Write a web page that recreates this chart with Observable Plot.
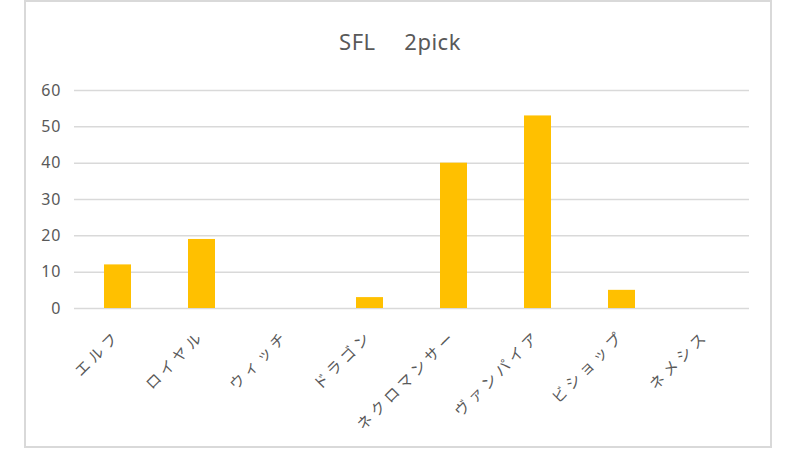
<!DOCTYPE html>
<html>
<head>
<meta charset="utf-8">
<script src="https://cdn.jsdelivr.net/npm/d3@7"></script>
<script src="https://cdn.jsdelivr.net/npm/@observablehq/plot@0.6"></script>
<style>
  html, body { margin: 0; padding: 0; background: #fff; }
  #wrap { position: relative; width: 800px; height: 450px; overflow: hidden; font-family: "Noto Sans", "Noto Sans CJK JP", sans-serif; }
  #frame { position: absolute; left: 24px; top: 0px; width: 748px; height: 448px; box-sizing: border-box; border: 2px solid #d9d9d9; }
  #title { position: absolute; left: 0; width: 800px; top: 26px; text-align: center; font-size: 22px; color: #595959; line-height: 30px; white-space: pre; letter-spacing: 0.5px; }
  #chart { position: absolute; left: 0; top: 0; }
  #chart g[aria-label="x-axis tick label"] text { letter-spacing: 4px; }
  #chart g[aria-label="y-axis tick label"] text { letter-spacing: 1px; }
</style>
</head>
<body>
<div id="wrap">
  <div id="frame"></div>
  <div id="title"></div>
  <div id="chart"></div>
</div>
<script>
const titleText = "SFL\u3000 2pick";
const categories = ["エルフ", "ロイヤル", "ウィッチ", "ドラゴン", "ネクロマンサー", "ヴァンパイア", "ビショップ", "ネメシス"];
const values = [12, 19, 0, 3, 40, 53, 5, 0];
const yTicks = [0, 10, 20, 30, 40, 50, 60];

document.getElementById("title").textContent = titleText;

const data = categories.map((c, i) => ({category: c, value: values[i]}));

const plot = Plot.plot({
  width: 800,
  height: 450,
  marginLeft: 74,
  marginRight: 51,
  marginTop: 90,
  marginBottom: 142,
  style: {background: "transparent", fontFamily: "'Noto Sans', 'Noto Sans CJK JP', sans-serif", color: "#595959"},
  x: {domain: categories, paddingInner: 0.68, paddingOuter: 0.34, label: null},
  y: {domain: [0, 60], label: null},
  marks: [
    Plot.ruleY(yTicks, {stroke: "#d9d9d9", strokeWidth: 1.5}),
    Plot.barY(data, {x: "category", y: "value", fill: "#FFC000"}),
    Plot.axisY({ticks: yTicks, tickSize: 0, tickPadding: 13, fontSize: 16, fill: "#595959", label: null}),
    Plot.axisX({tickSize: 0, tickRotate: -45, tickPadding: 25, fontSize: 15, fill: "#595959", label: null})
  ]
});
document.getElementById("chart").appendChild(plot);
</script>
</body>
</html>
